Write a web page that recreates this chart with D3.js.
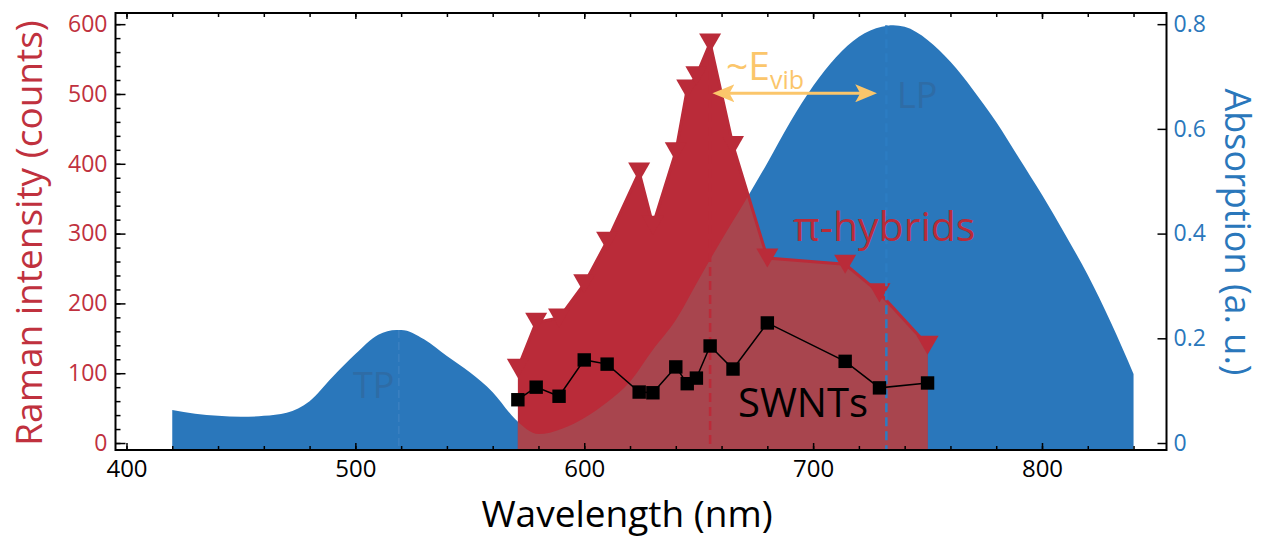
<!DOCTYPE html>
<html>
<head>
<meta charset="utf-8">
<script src="https://cdn.jsdelivr.net/npm/d3@7"></script>
<style>
    body { margin: 0; background: #ffffff; }
    svg { font-family: "Open Sans", sans-serif; }
</style>
</head>
<body>
<svg id="chart" width="1262" height="539"></svg>
<script>
// absorption spectrum (right axis)
const absWavelength = [420, 430, 440, 450, 460, 470, 480, 490, 500, 510, 518, 520, 530, 540, 550, 560, 570, 580, 590, 600,
    610, 620, 630, 640, 650, 660, 670, 680, 690, 700, 710, 720, 730, 735, 740, 750, 760, 770, 780, 790, 800, 810, 820, 830, 840];
const absValue = [0.063, 0.056, 0.052, 0.050, 0.052, 0.058, 0.080, 0.126, 0.170, 0.207, 0.216, 0.216, 0.198, 0.166, 0.135, 0.097, 0.045, 0.017, 0.027, 0.048,
    0.078, 0.117, 0.178, 0.235, 0.312, 0.388, 0.460, 0.535, 0.613, 0.682, 0.737, 0.776, 0.795, 0.798, 0.795, 0.770, 0.728, 0.674, 0.613, 0.544, 0.474, 0.399, 0.321, 0.231, 0.132];

// raman excitation profiles (left axis)
const ramanWavelength = [571, 579, 589, 600, 610, 624, 630, 640, 645, 649, 655, 665, 680, 714, 729, 750];
const hybridCounts = [107, 173, 179, 228, 289, 388, 312, 417, 507, 526, 573, 426, 265, 256, 215, 140];
const swntCounts = [62, 80, 67, 119, 113, 73, 72, 109, 85, 93, 139, 106, 172, 117, 79, 86];

// tick values
const wavelengthTicks = [400, 500, 600, 700, 800];
const wavelengthMinor = d3.range(400, 860, 20);
const ramanTicks = [0, 100, 200, 300, 400, 500, 600];
const ramanMinor = d3.range(0, 620, 20);
const absTicks = [0, 0.2, 0.4, 0.6, 0.8];

// marked peaks
const tpPeak = 519;
const lpPeak = 732;
const hybridPeak = 655;

const blue = "#2a77bb";
const red = "#ba2b39";
const redMuted = "#a8454e";
const orange = "#fbc66b";

const plotLeft = 115.5, plotRight = 1166.5, plotTop = 13, plotBottom = 450;

const svg = d3.select("#chart");

const x = d3.scaleLinear().domain([395.2, 854.4]).range([plotLeft, plotRight]);
const yRaman = d3.scaleLinear().domain([-10, 616]).range([plotBottom, plotTop]);
const yAbs = d3.scaleLinear().domain([-10 / 750, 616 / 750]).range([plotBottom, plotTop]);

const absData = absWavelength.map(function (w, i) { return { w: w, v: absValue[i] }; });
const ramanData = ramanWavelength.map(function (w, i) {
    return { w: w, hybrid: hybridCounts[i], swnt: swntCounts[i] };
});

// blue absorption area
const absArea = d3.area()
    .x(function (d) { return x(d.w); })
    .y0(plotBottom)
    .y1(function (d) { return yAbs(d.v); })
    .curve(d3.curveMonotoneX);

const defs = svg.append("defs");
defs.append("clipPath").attr("id", "abs-clip")
    .append("path").attr("d", absArea(absData));

defs.append("marker")
    .attr("id", "arrow-head")
    .attr("viewBox", "0 0 22 18")
    .attr("refX", 9)
    .attr("refY", 9)
    .attr("markerWidth", 22)
    .attr("markerHeight", 18)
    .attr("markerUnits", "userSpaceOnUse")
    .attr("orient", "auto-start-reverse")
    .append("path")
    .attr("d", "M0,0 L22,9 L0,18 L5,9 Z")
    .attr("fill", orange);

svg.append("path")
    .attr("d", absArea(absData))
    .attr("fill", blue);

// TP / LP labels sit on the blue fill
svg.append("text")
    .attr("x", x(508)).attr("y", 398)
    .attr("text-anchor", "middle")
    .attr("font-size", 36)
    .attr("fill", "#2e6ca6")
    .text("TP");
svg.append("text")
    .attr("x", x(745.5)).attr("y", 108)
    .attr("text-anchor", "middle")
    .attr("font-size", 36)
    .attr("fill", "#2e6ca6")
    .text("LP");

svg.append("line")
    .attr("x1", x(tpPeak)).attr("x2", x(tpPeak))
    .attr("y1", yAbs(0.216)).attr("y2", plotBottom)
    .attr("stroke", "#3b80c0")
    .attr("stroke-width", 1.5)
    .attr("stroke-dasharray", "8,4");

// pi-hybrid area
const hybridArea = d3.area()
    .x(function (d) { return x(d.w); })
    .y0(plotBottom)
    .y1(function (d) { return yRaman(d.hybrid); });

svg.append("path")
    .attr("d", hybridArea(ramanData))
    .attr("fill", red);

svg.append("path")
    .attr("d", hybridArea(ramanData))
    .attr("fill", redMuted)
    .attr("clip-path", "url(#abs-clip)");

svg.append("path")
    .attr("d", d3.line()
        .x(function (d) { return x(d.w); })
        .y(function (d) { return yRaman(d.hybrid); })(ramanData))
    .attr("fill", "none")
    .attr("stroke", red)
    .attr("stroke-width", 3);

const downTriangle = {
    draw: function (context, size) {
        const w = Math.sqrt(size) * 0.76;
        const h = Math.sqrt(size) * 0.66;
        context.moveTo(-w, -h);
        context.lineTo(w, -h);
        context.lineTo(0, h);
        context.closePath();
    }
};

svg.selectAll(".hybrid-point")
    .data(ramanData)
    .join("path")
    .attr("class", "hybrid-point")
    .attr("d", d3.symbol().type(downTriangle).size(210))
    .attr("transform", function (d) { return `translate(${x(d.w)}, ${yRaman(d.hybrid)})`; })
    .attr("fill", red);

// peak markers
svg.append("line")
    .attr("x1", x(hybridPeak)).attr("x2", x(hybridPeak))
    .attr("y1", yRaman(573)).attr("y2", plotBottom)
    .attr("stroke", red)
    .attr("stroke-width", 2.5)
    .attr("stroke-dasharray", "9,5");

svg.append("line")
    .attr("x1", x(lpPeak)).attr("x2", x(lpPeak))
    .attr("y1", yAbs(0.798)).attr("y2", plotBottom)
    .attr("stroke", "#2c7cc2")
    .attr("stroke-width", 2.5)
    .attr("stroke-dasharray", "9,5");

// SWNT profile
svg.append("path")
    .attr("d", d3.line()
        .x(function (d) { return x(d.w); })
        .y(function (d) { return yRaman(d.swnt); })(ramanData))
    .attr("fill", "none")
    .attr("stroke", "#000")
    .attr("stroke-width", 1.5);

svg.selectAll(".swnt-point")
    .data(ramanData)
    .join("path")
    .attr("class", "swnt-point")
    .attr("d", d3.symbol().type(d3.symbolSquare).size(180))
    .attr("transform", function (d) { return `translate(${x(d.w)}, ${yRaman(d.swnt)})`; })
    .attr("fill", "#000");

// annotations
svg.append("text")
    .attr("x", 793).attr("y", 241)
    .attr("font-size", 41)
    .attr("fill", red)
    .text("π-hybrids");

svg.append("text")
    .attr("x", 738).attr("y", 417)
    .attr("font-size", 40)
    .attr("fill", "#000")
    .text("SWNTs");

const evib = svg.append("text")
    .attr("x", 726).attr("y", 80)
    .attr("font-size", 39)
    .attr("fill", orange);
evib.append("tspan").text("~E");
evib.append("tspan").attr("dy", 9).attr("font-size", 25).text("vib");

svg.append("line")
    .attr("x1", x(656) + 13).attr("x2", x(728) - 13)
    .attr("y1", yRaman(501)).attr("y2", yRaman(501))
    .attr("stroke", orange)
    .attr("stroke-width", 3)
    .attr("marker-start", "url(#arrow-head)")
    .attr("marker-end", "url(#arrow-head)");

// axes
function styleTicks(g, color) {
    g.select(".domain").remove();
    g.selectAll("line").attr("stroke", "#000").attr("stroke-width", 1.5);
    g.selectAll("text").attr("fill", color);
}

svg.append("g")
    .attr("transform", `translate(0, ${plotBottom})`)
    .call(d3.axisBottom(x).tickValues(wavelengthMinor).tickSize(-4).tickFormat(""))
    .call(styleTicks, "#000");
svg.append("g")
    .attr("transform", `translate(0, ${plotBottom})`)
    .call(d3.axisBottom(x).tickValues(wavelengthTicks).tickSize(-7).tickPadding(10))
    .call(styleTicks, "#000")
    .selectAll("text").attr("font-size", 24).attr("font-family", "Open Sans");

svg.append("g")
    .attr("transform", `translate(0, ${plotTop})`)
    .call(d3.axisTop(x).tickValues(wavelengthMinor).tickSize(-4).tickFormat(""))
    .call(styleTicks, "#000");
svg.append("g")
    .attr("transform", `translate(0, ${plotTop})`)
    .call(d3.axisTop(x).tickValues(wavelengthTicks).tickSize(-6).tickFormat(""))
    .call(styleTicks, "#000");

svg.append("g")
    .attr("transform", `translate(${plotLeft}, 0)`)
    .call(d3.axisLeft(yRaman).tickValues(ramanMinor).tickSize(-5).tickFormat(""))
    .call(styleTicks, "#000");
svg.append("g")
    .attr("transform", `translate(${plotLeft}, 0)`)
    .call(d3.axisLeft(yRaman).tickValues(ramanTicks).tickSize(-10).tickPadding(8))
    .call(styleTicks, "#c0313e")
    .selectAll("text").attr("font-size", 23).attr("font-family", "Open Sans");

svg.append("g")
    .attr("transform", `translate(${plotRight}, 0)`)
    .call(d3.axisRight(yAbs).tickValues(absTicks).tickSize(-9).tickPadding(7).tickFormat(d3.format("~g")))
    .call(styleTicks, blue)
    .selectAll("text").attr("font-size", 23).attr("font-family", "Open Sans");

svg.append("rect")
    .attr("x", plotLeft).attr("y", plotTop)
    .attr("width", plotRight - plotLeft).attr("height", plotBottom - plotTop)
    .attr("fill", "none")
    .attr("stroke", "#000")
    .attr("stroke-width", 2);

// axis titles
svg.append("text")
    .attr("transform", `translate(42, 233) rotate(-90)`)
    .attr("text-anchor", "middle")
    .attr("font-size", 37)
    .attr("fill", "#c0313e")
    .text("Raman intensity (counts)");

svg.append("text")
    .attr("transform", `translate(1225, 232) rotate(90)`)
    .attr("text-anchor", "middle")
    .attr("font-size", 36)
    .attr("fill", blue)
    .text("Absorption (a. u.)");

svg.append("text")
    .attr("x", 627).attr("y", 527)
    .attr("text-anchor", "middle")
    .attr("font-size", 37)
    .attr("fill", "#000")
    .text("Wavelength (nm)");
</script>
</body>
</html>
